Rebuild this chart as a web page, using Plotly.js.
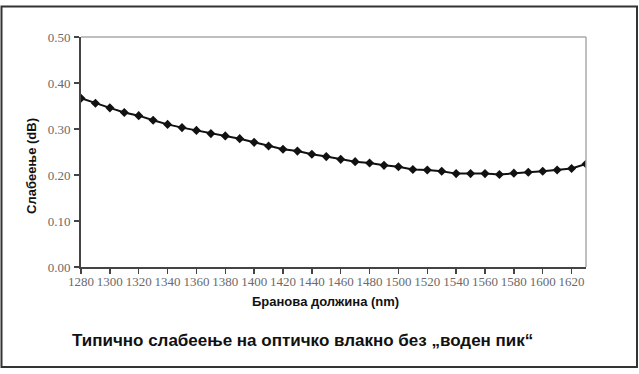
<!DOCTYPE html>
<html>
<head>
<meta charset="utf-8">
<script src="https://cdn.plot.ly/plotly-3.0.1.min.js"></script>
<style>
html,body{margin:0;padding:0;background:#fff;}
#chart{width:639px;height:374px;}
</style>
</head>
<body>
<div id="chart"></div>
<script>
const wavelengths = [1280,1290,1300,1310,1320,1330,1340,1350,1360,1370,1380,1390,1400,1410,1420,1430,1440,1450,1460,1470,1480,1490,1500,1510,1520,1530,1540,1550,1560,1570,1580,1590,1600,1610,1620,1630];
const attenuation = [0.367,0.356,0.346,0.336,0.329,0.319,0.310,0.303,0.297,0.290,0.285,0.279,0.271,0.263,0.256,0.252,0.245,0.240,0.234,0.229,0.226,0.221,0.218,0.212,0.211,0.208,0.203,0.203,0.203,0.201,0.204,0.206,0.208,0.211,0.214,0.224];
const xTicks = [1280,1300,1320,1340,1360,1380,1400,1420,1440,1460,1480,1500,1520,1540,1560,1580,1600,1620];
const yTicks = [0,0.1,0.2,0.3,0.4,0.5];
const yTickLabels = ["0.00","0.10","0.20","0.30","0.40","0.50"];

const W = 639, H = 374;
const m = {l:81, r:53, t:37, b:107};
const pw = W - m.l - m.r, ph = H - m.t - m.b;
const px = v => (v - m.l) / pw;
const py = v => (H - m.b - v) / ph;

const trace = {
  x: wavelengths, y: attenuation, type: 'scatter', mode: 'lines+markers',
  line: {color:'#111', width:2},
  marker: {symbol:'diamond', size:7, color:'#111'},
  hoverinfo:'none'
};

const tickFont = {family:'"Liberation Serif", "Times New Roman", serif', size:13, color:'#6a6a6a'};
const layout = {
  width: W, height: H,
  margin: m,
  paper_bgcolor:'#fff', plot_bgcolor:'#fff',
  showlegend:false,
  xaxis: {
    range:[1280,1630], tickvals:xTicks, ticktext:xTicks.map(String),
    showgrid:false, zeroline:false, showline:true, linecolor:'#444', linewidth:2,
    ticks:'outside', ticklen:5, tickwidth:1.5, tickcolor:'#444',
    ticklabelstandoff:-4,
    tickfont:tickFont, fixedrange:true
  },
  yaxis: {
    range:[0,0.5], tickvals:yTicks, ticktext:yTickLabels,
    showgrid:false, zeroline:false, showline:true, linecolor:'#444', linewidth:2,
    ticks:'outside', ticklen:5, tickwidth:1.5, tickcolor:'#444',
    ticklabelstandoff:1,
    tickfont:tickFont, fixedrange:true
  },
  shapes: [
    {type:'line', xref:'paper', yref:'paper', x0:0, x1:1, y0:1, y1:1, line:{color:'#aaa', width:1.5}},
    {type:'line', xref:'paper', yref:'paper', x0:1, x1:1, y0:0, y1:1, line:{color:'#aaa', width:1.5}},
    {type:'rect', xref:'paper', yref:'paper', x0:px(1.5), x1:px(637), y0:py(6.5), y1:py(367), line:{color:'#333', width:2}, fillcolor:'rgba(0,0,0,0)', layer:'below'}
  ],
  annotations: [
    {text:'Бранова должина (nm)', xref:'paper', yref:'paper', x:px(325), y:py(301), xanchor:'center', yanchor:'middle', showarrow:false,
     font:{family:'"Liberation Sans", Arial, sans-serif', size:13, color:'#111', weight:'bold'}},
    {text:'Слабеење (dB)', xref:'paper', yref:'paper', x:px(31), y:py(166), xanchor:'center', yanchor:'middle', showarrow:false, textangle:-90,
     font:{family:'"Liberation Sans", Arial, sans-serif', size:13, color:'#111', weight:'bold'}},
    {text:'Типично слабеење на оптичко влакно без „воден пик“', xref:'paper', yref:'paper', x:px(302), y:py(340), xanchor:'center', yanchor:'middle', showarrow:false,
     font:{family:'"Liberation Sans", Arial, sans-serif', size:17, color:'#111', weight:'bold'}}
  ]
};

Plotly.newPlot('chart', [trace], layout, {displayModeBar:false, staticPlot:true});
</script>
</body>
</html>
